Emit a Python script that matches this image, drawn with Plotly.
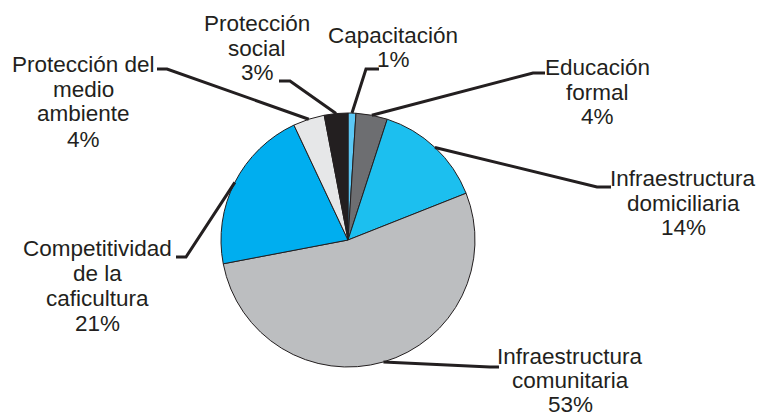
import math
import plotly.graph_objects as go

# ---- data ----
categories = ["Capacitación", "Educación formal", "Infraestructura domiciliaria",
              "Infraestructura comunitaria", "Competitividad de la caficultura",
              "Protección del medio ambiente", "Protección social"]
values = [1, 4, 14, 53, 21, 4, 3]
label_lines = [["Capacitación"], ["Educación", "formal"], ["Infraestructura", "domiciliaria"],
               ["Infraestructura", "comunitaria"], ["Competitividad", "de la", "caficultura"],
               ["Protección del", "medio", "ambiente"], ["Protección", "social"]]
colors = ["#5BC8F5", "#6D6E71", "#1CBFEF", "#BCBEC0", "#00AEEF", "#E6E7E8", "#231F20"]

# ---- layout (pixels) ----
W, H = 760, 418
CX, CY, R = 348, 240, 127
INK = "#231F20"
# label center x, first-line y, line spacing, elbow point, end of horizontal tick
label_pos = [
    (393, 35, 25, (366, 69), (379, 69)),
    (597, 67, 25, (533, 73), (545, 73)),
    (683, 178, 25, (597, 187), (611, 187)),
    (570, 356, 24, (490, 367), (499, 367)),
    (97, 248, 25, (186, 257), (176, 257)),
    (83, 64, 25, (167, 69), (157, 69)),
    (257, 23, 25, (290, 81), (279, 81)),
]
FS = 22.5

def px(x):
    return x / W

def py(y):
    return 1 - y / H

fig = go.Figure(go.Pie(
    labels=categories, values=values, sort=False, direction="clockwise", rotation=0,
    marker=dict(colors=colors, line=dict(color=INK, width=1)),
    textinfo="none", hoverinfo="label+percent", showlegend=False,
    domain=dict(x=[px(CX - R), px(CX + R)], y=[py(CY + R), py(CY - R)]),
))

shapes = []
annotations = []
total = sum(values)
cum = 0
for i, v in enumerate(values):
    mid = (cum + v / 2) / total * 2 * math.pi
    cum += v
    sx = CX + R * math.sin(mid)
    sy = CY - R * math.cos(mid)
    lx, ly, sp, (ex, ey), (tx, ty) = label_pos[i]
    shapes.append(dict(type="path", xref="paper", yref="paper",
                       path=f"M {px(sx)},{py(sy)} L {px(ex)},{py(ey)} L {px(tx)},{py(ty)}",
                       line=dict(color=INK, width=3)))
    lines = label_lines[i] + [f"{v}%"]
    for k, t in enumerate(lines):
        annotations.append(dict(x=px(lx), y=py(ly + k * sp), xref="paper", yref="paper",
                                text=t, showarrow=False, xanchor="center", yanchor="middle",
                                font=dict(family="Liberation Sans, Arial, sans-serif",
                                          size=FS, color=INK)))

fig.update_layout(width=W, height=H, margin=dict(l=0, r=0, t=0, b=0),
                  paper_bgcolor="white", plot_bgcolor="white",
                  shapes=shapes, annotations=annotations)
fig.write_html("out.html", config={"displayModeBar": False},
               post_script="document.body.style.margin='0';document.body.style.overflow='hidden';")
